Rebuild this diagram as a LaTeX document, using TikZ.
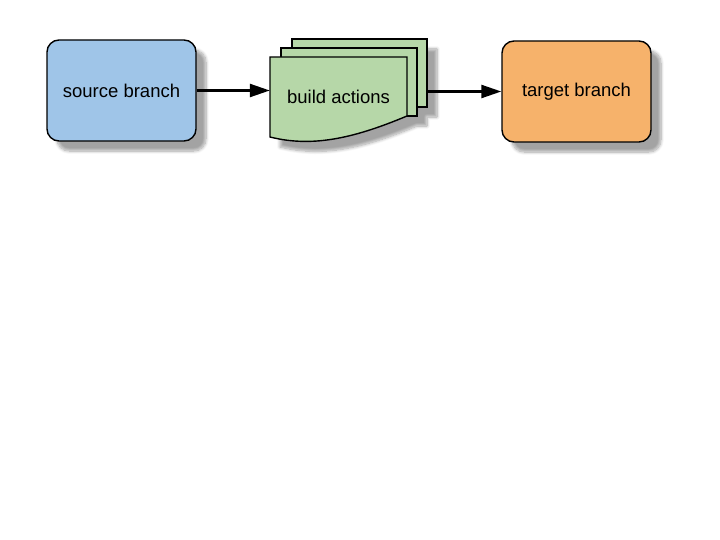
\documentclass[tikz,border=0pt]{standalone}
\usepackage{fontspec}
\setmainfont{Liberation Sans}
\usetikzlibrary{arrows.meta, positioning, shadows.blur}
\definecolor{srcblue}{HTML}{9FC5E8}
\definecolor{actgreen}{HTML}{B6D7A8}
\definecolor{tgtorange}{HTML}{F6B26B}

\begin{document}
\begin{tikzpicture}[x=1pt, y=-1pt,
  box/.style={draw, line width=1.4pt, rounded corners=12pt, minimum width=149pt,
    minimum height=101pt, font=\fontsize{18.5}{22}\selectfont},
  sheet/.style={draw, line width=1.4pt, fill=actgreen, outer sep=0pt},
  shade/.style={blur shadow={shadow xshift=10pt, shadow yshift=-10pt,
    shadow blur radius=3pt, shadow blur steps=8, shadow opacity=36}},
  link/.style={line width=2.4pt, black, -{Triangle[length=20pt, width=13pt]}}]
  \useasboundingbox (0,0) rectangle (720,540);

  % Branches
  \node[box, shade, fill=srcblue] (source) at (121.5,90.5) {source branch};
  \node[box, shade, fill=tgtorange] (target) at (576.5,91.5) {target branch};

  % Shadow of the sheet stack
  \path[shade] (270,57) -| (281,48) -| (292,39) -| (427,107) -| (417,116) -- (407,116)
    .. controls (350,140) and (310,147) .. (270,137) -- cycle;

  % Sheets
  \node[sheet, anchor=north west, minimum width=135pt, minimum height=68pt] (back) at (292,39) {};
  \node[sheet, anchor=north west, minimum width=136pt, minimum height=68pt] (middle) at (281,48) {};
  \draw[sheet] (270,57) -- (407,57) -- (407,116)
    .. controls (350,140) and (310,147) .. (270,137) -- cycle;
  \node[minimum width=137pt, minimum height=80pt, font=\fontsize{18.5}{22}\selectfont]
    (build) at (338.5,97) {build actions};

  % Arrows
  \draw[link] (source.east) -- (source.east -| build.west);
  \draw[link] (target.west -| back.east) -- (target.west);
\end{tikzpicture}
\end{document}
